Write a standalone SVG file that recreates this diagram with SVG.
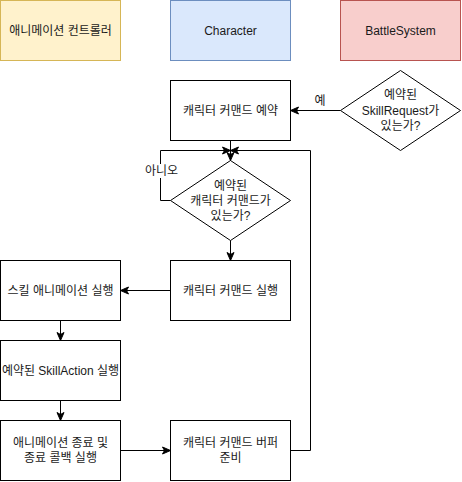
<svg xmlns="http://www.w3.org/2000/svg" width="462" height="482" viewBox="0 0 462 482">
<style>
text{font-family:"Liberation Sans","Noto Sans CJK KR",sans-serif;font-size:12px;fill:#1a1a1a;text-anchor:middle;dominant-baseline:central}
.b{fill:#fff;stroke:#000;stroke-width:1}
.c{fill:none;stroke:#000;stroke-width:1}
</style>
<defs>
<marker id="a" markerUnits="userSpaceOnUse" markerWidth="10" markerHeight="10" viewBox="0 0 10 10" refX="9" refY="5" orient="auto">
<path d="M1,1.5 L9,5 L1,8.5 L3,5 Z" fill="#000" stroke="#000" stroke-width="1"/>
</marker>
</defs>
<g id="lane-anim"><rect x="0.5" y="0.5" width="120" height="60" fill="#fff2cc" stroke="#d6b656"/><text x="60.5" y="30.5">애니메이션 컨트롤러</text></g>
<g id="lane-char"><rect x="170.5" y="0.5" width="120" height="60" fill="#dae8fc" stroke="#6c8ebf"/><text x="230.5" y="30.5">Character</text></g>
<g id="lane-battle"><rect x="340.5" y="0.5" width="120" height="60" fill="#f8cecc" stroke="#b85450"/><text x="400.5" y="30.5">BattleSystem</text></g>
<g id="reserve"><rect class="b" x="170.5" y="80.5" width="120" height="60"/><text x="230.5" y="110.5">캐릭터 커맨드 예약</text></g>
<g id="dec-skill"><path class="b" d="M400.5,70.5 L460.5,110.5 L400.5,150.5 L340.5,110.5 Z"/><text x="400.5" y="95">예약된</text><text x="400.5" y="110.5">SkillRequest가</text><text x="400.5" y="126">있는가?</text></g>
<g id="dec-cmd"><path class="b" d="M230.5,160.5 L290.5,200.5 L230.5,240.5 L170.5,200.5 Z"/><text x="230.5" y="186">예약된</text><text x="230.5" y="201">캐릭터 커맨드가</text><text x="230.5" y="216">있는가?</text></g>
<g id="exec"><rect class="b" x="170.5" y="260.5" width="120" height="60"/><text x="230.5" y="290.5">캐릭터 커맨드 실행</text></g>
<g id="skillanim"><rect class="b" x="0.5" y="260.5" width="120" height="60"/><text x="60.5" y="290.5">스킬 애니메이션 실행</text></g>
<g id="skillaction"><rect class="b" x="0.5" y="340.5" width="120" height="60"/><text x="60.5" y="370.5">예약된 SkillAction 실행</text></g>
<g id="animend"><rect class="b" x="0.5" y="420.5" width="120" height="60"/><text x="60.5" y="443">애니메이션 종료 및</text><text x="60.5" y="458">종료 콜백 실행</text></g>
<g id="buffer"><rect class="b" x="170.5" y="420.5" width="120" height="60"/><text x="230.5" y="443">캐릭터 커맨드 버퍼</text><text x="230.5" y="458">준비</text></g>
<g id="connectors">
<path class="c" d="M340.5,110.5 L290.5,110.5" marker-end="url(#a)"/>
<text x="320" y="101">예</text>
<path class="c" d="M230.5,140.5 L230.5,160.5" marker-end="url(#a)"/>
<path class="c" d="M170.5,200.5 L160.5,200.5 L160.5,150.5 L230.5,150.5" marker-end="url(#a)"/>
<rect x="146" y="164" width="31" height="14" fill="#fff"/>
<text x="161.5" y="171">아니오</text>
<path class="c" d="M290.5,450.5 L310.5,450.5 L310.5,150.5 L230.5,150.5" marker-end="url(#a)"/>
<path class="c" d="M230.5,240.5 L230.5,260.5" marker-end="url(#a)"/>
<path class="c" d="M170.5,290.5 L120.5,290.5" marker-end="url(#a)"/>
<path class="c" d="M60.5,320.5 L60.5,340.5" marker-end="url(#a)"/>
<path class="c" d="M60.5,400.5 L60.5,420.5" marker-end="url(#a)"/>
<path class="c" d="M120.5,450.5 L170.5,450.5" marker-end="url(#a)"/>
</g>
</svg>
